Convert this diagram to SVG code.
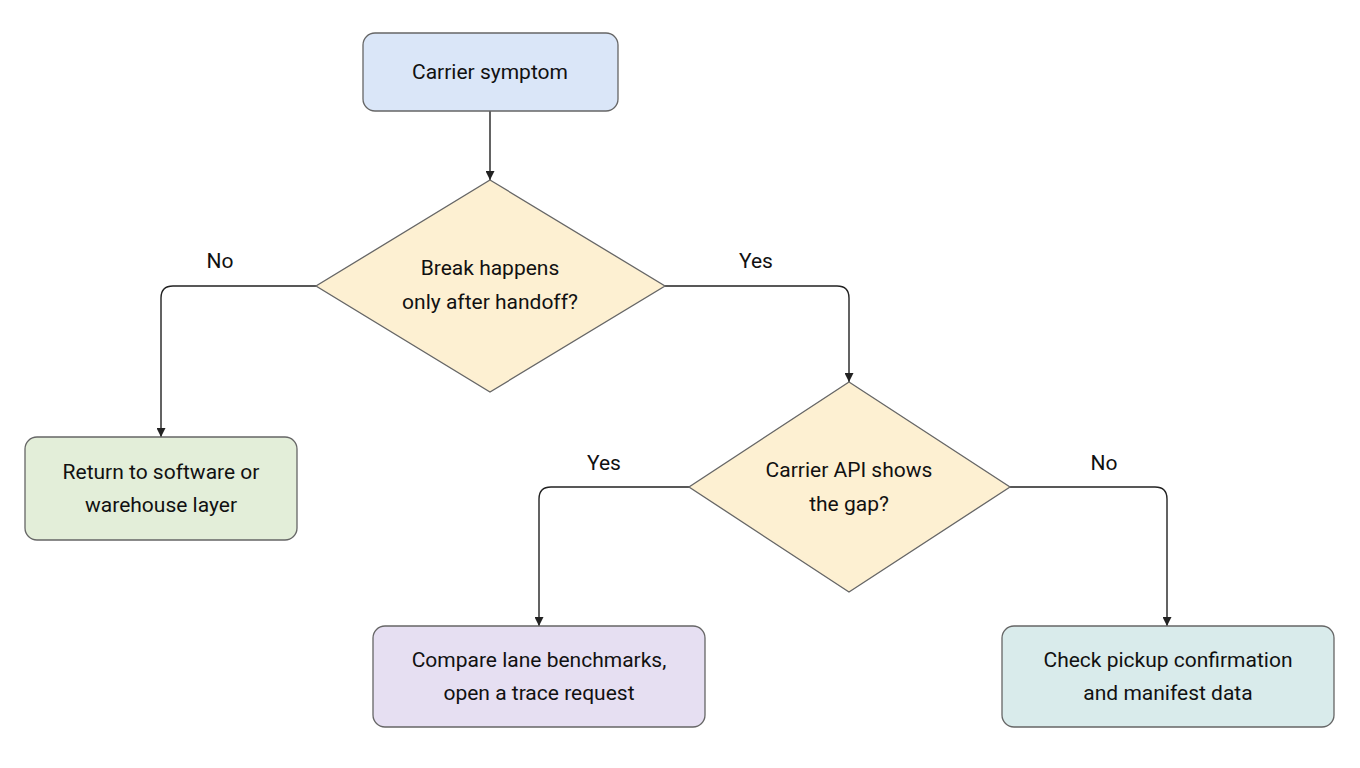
<svg xmlns="http://www.w3.org/2000/svg" width="1360" height="768" viewBox="0 0 1360 768">
<style>
text{font-family:Roboto,"Liberation Sans",sans-serif;font-size:21px;fill:#111;text-anchor:middle}
.n{stroke:#666;stroke-width:1.3}
.e{fill:none;stroke:#222;stroke-width:1.4;marker-end:url(#a)}
</style>
<defs><marker id="a" viewBox="0 0 10 10" refX="10" refY="5" markerWidth="9" markerHeight="9" markerUnits="userSpaceOnUse" orient="auto"><path d="M0,0L10,5L0,10z" fill="#222"/></marker></defs>
<rect width="1360" height="768" fill="#fff"/>
<g id="connectors">
<path class="e" d="M490,111V180"/>
<path class="e" d="M316,286H173Q161,286 161,298V437"/>
<path class="e" d="M665,286H837Q849,286 849,298V382"/>
<path class="e" d="M689,487H551Q539,487 539,499V626"/>
<path class="e" d="M1010,487H1155Q1167,487 1167,499V626"/>
<text x="220" y="268">No</text>
<text x="756" y="268">Yes</text>
<text x="604" y="470">Yes</text>
<text x="1104" y="470">No</text>
</g>
<g id="n1"><rect class="n" x="363" y="33" width="255" height="78" rx="12" fill="#dae6f8"/><text x="490" y="79">Carrier symptom</text></g>
<g id="n2"><path class="n" d="M490,180L665,286L490,392L316,286z" fill="#fdf0d2"/><text x="490" y="275">Break happens</text><text x="490" y="309">only after handoff?</text></g>
<g id="n3"><rect class="n" x="25" y="437" width="272" height="103" rx="12" fill="#e3eed9"/><text x="161" y="479">Return to software or</text><text x="161" y="512">warehouse layer</text></g>
<g id="n4"><path class="n" d="M849,382L1010,487L849,592L689,487z" fill="#fdf0d2"/><text x="849" y="477">Carrier API shows</text><text x="849" y="511">the gap?</text></g>
<g id="n5"><rect class="n" x="373" y="626" width="332" height="101" rx="12" fill="#e6dff2"/><text x="539" y="667">Compare lane benchmarks,</text><text x="539" y="700">open a trace request</text></g>
<g id="n6"><rect class="n" x="1002" y="626" width="332" height="101" rx="12" fill="#d9ebeb"/><text x="1168" y="667">Check pickup confirmation</text><text x="1168" y="700">and manifest data</text></g>
</svg>
